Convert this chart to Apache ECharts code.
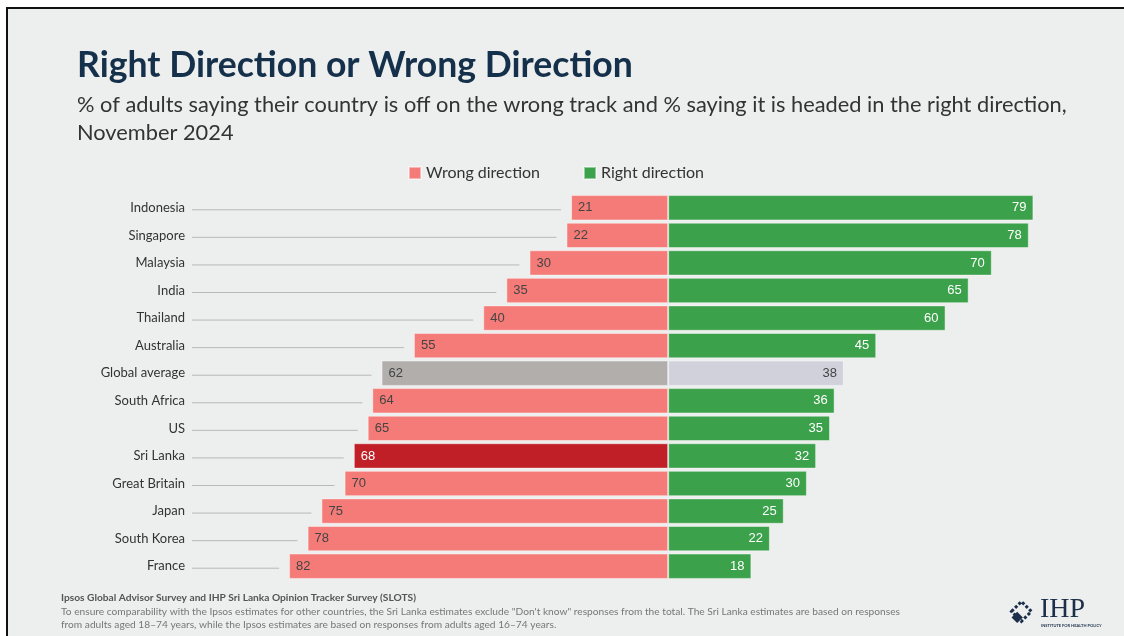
<!DOCTYPE html>
<html>
<head>
<meta charset="utf-8">
<script src="https://cdn.jsdelivr.net/npm/echarts@6/dist/echarts.min.js"></script>
<style>
html,body{margin:0;padding:0;background:#fff;}
#frame{position:absolute;left:6px;top:7px;width:1118px;height:629px;border-top:2px solid #111;border-left:2px solid #111;background:#edeeee;box-sizing:border-box;}
#chart{position:absolute;left:0;top:0;width:1124px;height:636px;}
</style>
</head>
<body>
<div id="frame"></div>
<div id="chart"></div>
<script>
const countries = ['Indonesia','Singapore','Malaysia','India','Thailand','Australia','Global average','South Africa','US','Sri Lanka','Great Britain','Japan','South Korea','France'];
const wrongValues = [21,22,30,35,40,55,62,64,65,68,70,75,78,82];
const rightValues = [79,78,70,65,60,45,38,36,35,32,30,25,22,18];
const seriesNames = ['Wrong direction','Right direction'];

const WRONG = '#f47b77', RIGHT = '#3ba14a', SRI = '#c01f27', AVG_W = '#b1aeac', AVG_R = '#d0d1db';
const labelFont = '"Liberation Sans", Arial, sans-serif';
const uiFont = 'Lato, "Open Sans", sans-serif';

const wrongData = wrongValues.map((v, i) => {
  const item = { value: -v };
  if (countries[i] === 'Sri Lanka') { item.itemStyle = { color: SRI }; item.label = { color: '#fff' }; }
  if (countries[i] === 'Global average') item.itemStyle = { color: AVG_W };
  return item;
});
const rightData = rightValues.map((v, i) => {
  const item = { value: v };
  if (countries[i] === 'Global average') {
    item.itemStyle = { color: AVG_R };
    item.label = { color: '#444' };
  }
  return item;
});
const leaderData = wrongValues.map((v, i) => [v, i]);

const chart = echarts.init(document.getElementById('chart'), null, { renderer: 'canvas' });
chart.setOption({
  backgroundColor: 'transparent',
  animation: false,
  grid: { left: 192, right: 12, top: 194, bottom: 56 },
  legend: {
    data: seriesNames,
    left: 403, top: 160,
    icon: 'rect', itemWidth: 12, itemHeight: 12, itemGap: 43,
    textStyle: { fontFamily: uiFont, fontSize: 16, color: '#333' }
  },
  xAxis: {
    type: 'value', min: -103, max: 96,
    show: false
  },
  yAxis: {
    type: 'category', data: countries, inverse: true,
    axisLine: { show: false }, axisTick: { show: false },
    axisLabel: { margin: 7, fontFamily: uiFont, fontSize: 13, color: '#333' }
  },
  title: [
    { text: 'Right Direction or Wrong Direction', left: 77, top: 48, padding: 0,
      textStyle: { fontFamily: uiFont, fontWeight: 'bold', fontSize: 35.6, color: '#15304a' } },
    { text: '% of adults saying their country is off on the wrong track and % saying it is headed in the right direction,\nNovember 2024',
      left: 77, top: 91, padding: 0,
      textStyle: { fontFamily: uiFont, fontWeight: 'normal', fontSize: 21.8, lineHeight: 28, color: '#333' } }
  ],
  series: [
    {
      type: 'custom', name: 'leader', silent: true, z: 1,
      data: leaderData,
      encode: { x: 0, y: 1 },
      renderItem: function (params, api) {
        const p = api.coord([-api.value(0), api.value(1)]);
        const x0 = params.coordSys.x;
        return { type: 'line', shape: { x1: x0, y1: p[1] + 2, x2: p[0] - 10, y2: p[1] + 2 },
                 style: { stroke: '#b9b9b9', lineWidth: 1 } };
      }
    },
    {
      type: 'bar', name: seriesNames[0], data: wrongData, barWidth: '92%', barGap: '-100%',
      itemStyle: { color: WRONG, borderColor: 'rgba(255,255,255,0.45)', borderWidth: 1 },
      label: { show: true, position: 'insideLeft', distance: 7, color: '#444', fontFamily: labelFont, fontSize: 13,
               formatter: p => Math.abs(p.value) }
    },
    {
      type: 'bar', name: seriesNames[1], data: rightData, barWidth: '92%', barGap: '-100%',
      itemStyle: { color: RIGHT, borderColor: 'rgba(255,255,255,0.45)', borderWidth: 1 },
      label: { show: true, position: 'insideRight', distance: 7, color: '#fff', fontFamily: labelFont, fontSize: 13 }
    }
  ],
  graphic: [
    { type: 'text', left: 61, top: 593,
      style: { text: 'Ipsos Global Advisor Survey and IHP Sri Lanka Opinion Tracker Survey (SLOTS)',
               font: 'bold 10.2px ' + uiFont, fill: '#555' } },
    { type: 'text', left: 61, top: 605,
      style: { text: 'To ensure comparability with the Ipsos estimates for other countries, the Sri Lanka estimates exclude "Don\'t know" responses from the total. The Sri Lanka estimates are based on responses\nfrom adults aged 18\u201374 years, while the Ipsos estimates are based on responses from adults aged 16\u201374 years.',
               font: '10.2px ' + uiFont, fill: '#777', lineHeight: 13 } },
    { type: 'group', left: 1008, top: 598, children: [
      { type: 'rect', shape: { x: 0, y: 0, width: 14, height: 14 }, rotation: Math.PI / 4, position: [14, 0],
        style: { fill: 'none', stroke: '#1b2f4a', lineWidth: 3, lineDash: [3, 2] } },
      { type: 'rect', shape: { x: 0, y: 0, width: 8, height: 8 }, rotation: Math.PI / 4, position: [14, 6],
        style: { fill: '#1b2f4a' } }
    ] },
    { type: 'text', left: 1040, top: 596,
      style: { text: 'IHP', font: '28px "Liberation Serif", "DejaVu Serif", serif', fill: '#1b2f4a' } },
    { type: 'text', left: 1041, top: 624,
      style: { text: 'INSTITUTE FOR HEALTH POLICY', font: 'bold 4px ' + uiFont, fill: '#1b2f4a' } }
  ]
});
</script>
</body>
</html>
